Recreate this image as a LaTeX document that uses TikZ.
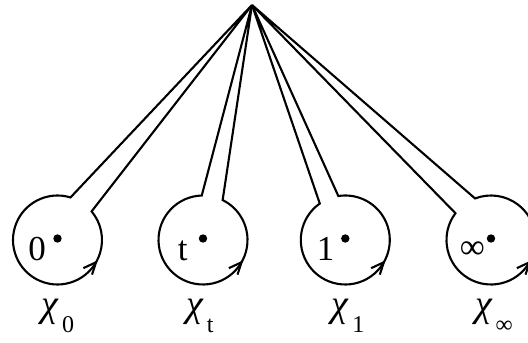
\documentclass[tikz,border=0pt]{standalone}
\usepackage{fontspec}
\setmainfont{Liberation Serif}
\tikzset{
  loopline/.style={line width=2.1pt, line join=miter},
  barb/.style={line width=2.1pt, line join=miter},
  ptlabel/.style={anchor=base, inner sep=0pt, font=\fontsize{35}{38}\selectfont},
  chilabel/.style={anchor=base, inner sep=0pt, font=\fontsize{38}{40}\selectfont}
}
\newcommand{\chisub}[1]{\textit{χ}\hspace{3pt}\raisebox{-17pt}{\fontsize{24}{26}\selectfont #1}}
\begin{document}
\begin{tikzpicture}[x=1pt,y=1pt]
\useasboundingbox (0,0) rectangle (528,343);
\coordinate (apex) at (252,338);
\foreach \cx/\al/\ar/\nm in {57.5/73/40/z, 203/91.6/63.8/t, 345.3/125/99/o, 491/143/111/i}{
  \coordinate (c\nm) at (\cx,103);
  \draw[loopline] (apex) -- ([shift={(\al:44.5)}]c\nm) arc[start angle=\al, end angle=\ar+360, radius=44.5] -- (apex);
  \coordinate (tip\nm) at ([shift={(-30:44.5)}]c\nm);
  \draw[barb] ([shift={(205:14)}]tip\nm) -- (tip\nm) -- ([shift={(252:13)}]tip\nm);
  \fill ([shift={(0,1.5)}]c\nm) circle (4.2);
}
\node[ptlabel] (pz) at (37,82.5) {0};
\node[ptlabel] (pt) at (182.7,82.5) {t};
\node[ptlabel] (po) at (325.7,82.5) {1};
\node[ptlabel] (pi) at (472.3,84) {∞};
\node[chilabel] (xz) at (58,27) {\chisub{0}};
\node[chilabel] (xt) at (200,27) {\chisub{t}};
\node[chilabel] (xo) at (348,27) {\chisub{1}};
\node[chilabel] (xi) at (494,27) {\chisub{∞}};
\end{tikzpicture}
\end{document}
